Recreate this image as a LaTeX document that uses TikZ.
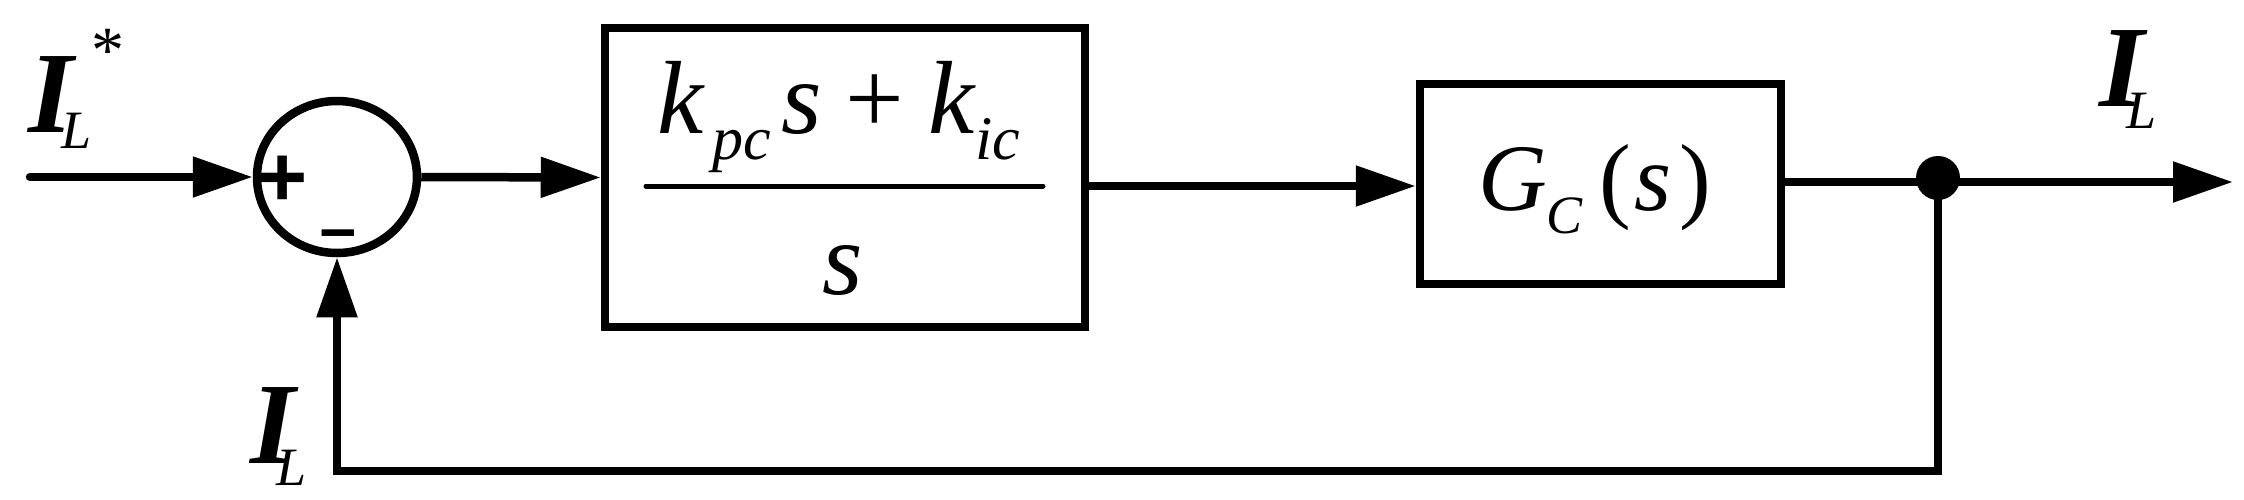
\documentclass[tikz,border=0pt]{standalone}
\usepackage{fontspec}
\usepackage{graphicx}
\setmainfont{Liberation Serif}
\setsansfont{Liberation Sans}
\usetikzlibrary{arrows.meta,shapes.geometric}
\newcommand{\bigI}{{\fontsize{58}{60}\selectfont\bfseries\itshape I}}
\newcommand{\subL}[2]{\kern#1\raisebox{-#2}{\fontsize{27}{28}\selectfont\itshape L}}
\newcommand{\subtxt}[1]{\raisebox{-13pt}{\fontsize{31}{31}\selectfont\itshape #1}}
\begin{document}
\begin{tikzpicture}[x=0.5pt,y=-0.5pt,
  wire/.style={line width=4.25pt},
  arr/.style={wire,-{Triangle[length=30pt,width=19.5pt]}},
  blk/.style={draw,line width=4.25pt,rectangle,inner sep=0pt},
  sumnode/.style={draw,line width=4.25pt,ellipse,inner sep=0pt,minimum width=80pt,minimum height=76pt},
  lbl/.style={inner sep=0pt,anchor=base west},
  sign/.style={inner sep=0pt}]
\useasboundingbox (0,0) rectangle (2244,499);
% nodes
\node[sumnode] (sum) at (337,177) {};
\node[blk,minimum width=240pt,minimum height=149.5pt] (pi) at (845,177.5) {};
\node[blk,minimum width=180.5pt,minimum height=100pt] (gc) at (1600.5,184) {};
\node[circle,fill,inner sep=0pt,minimum size=22pt] (dot) at (1938,178) {};
\coordinate (in) at (30,177);
\coordinate (out) at (2233,182);
\coordinate (fb) at (0,471);
% signs
\node[sign] (plus) at (283,181) {\fontsize{43}{43}\selectfont\sffamily\bfseries +};
\node[sign] (minus) at (338,241) {\scalebox{1.6}[1]{\fontsize{39}{39}\selectfont\bfseries -}};
% block contents
\node[lbl] (num) at (657,133) {\fontsize{52}{56}\selectfont\itshape k\kern4.7pt\subtxt{pc}\kern5pt s\kern11.7pt{\upshape +}\kern12.3pt k\kern0.4pt\subtxt{ic}};
\draw[line width=2.5pt,line cap=round] (646,186) -- (1043,186);
\node[inner sep=0pt,anchor=base] (den) at (843,294) {\fontsize{52}{56}\selectfont\itshape s};
\node[lbl] (gctext) at (1478,210) {\fontsize{47.6}{50}\selectfont\itshape G\kern-0.5pt\raisebox{-11.5pt}{\fontsize{27}{28}\selectfont C}\kern8.5pt{\upshape(}\kern2pt s\kern3.8pt{\upshape)}};
% labels
\node[lbl] (lin) at (28,132) {\bigI\subL{-6.2pt}{8pt}\raisebox{30pt}{\fontsize{33}{33}\selectfont *}};
\node[lbl] (lfb) at (250,463) {\bigI\subL{-9.7pt}{11pt}};
\node[lbl] (lout) at (2099,106) {\bigI\subL{-9.2pt}{11pt}};
% connectors
\draw[arr,line cap=round] (in) -- (sum.west);
\draw[arr] (sum.east) -- (pi.west);
\draw[arr] (pi.east |- 0,186) -- (gc.west |- 0,186);
\draw[wire] (gc.east |- out) -- (dot.center |- out) coordinate (tap);
\draw[arr] (tap) -- (out);
\draw[arr] (tap) |- (sum.south |- fb) -- (sum.south);
\end{tikzpicture}
\end{document}
